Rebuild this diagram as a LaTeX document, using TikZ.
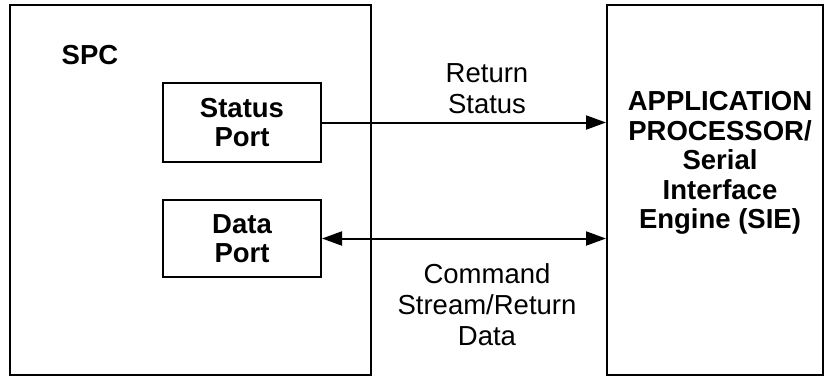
\documentclass[tikz,border=0pt]{standalone}
\usepackage{fontspec}
\setmainfont{Liberation Sans}
\usetikzlibrary{arrows.meta}
\tikzset{
  blk/.style={draw,line width=1pt,inner sep=0pt},
  txt/.style={align=center,inner sep=0pt,font=\fontsize{13.75}{15.5}\selectfont},
  btxt/.style={txt,font=\fontsize{13.75}{14.8}\selectfont\bfseries},
  tip/.tip={Triangle[length=10pt,width=7pt]},
  link/.style={line width=1pt,-tip},
}
\begin{document}
\begin{tikzpicture}[x=0.5pt,y=-0.5pt]
  \useasboundingbox (0,0) rectangle (825,377);
  \draw
    (190.5,190) node[blk,minimum width=180.5pt,minimum height=185pt] (spc){}
    (242,122.5) node[blk,minimum width=79pt,minimum height=39.5pt,btxt] (st){Status\\Port}
    (242,238.5) node[blk,minimum width=79pt,minimum height=38.5pt,btxt] (dp){Data\\Port}
    (715,190) node[blk,minimum width=108pt,minimum height=185pt] (ap){};
  \node[btxt] (spclbl) at (90,55) {SPC};
  \node[btxt] (aplbl) at (720,163) {APPLICATION\\PROCESSOR/\\Serial\\Interface\\Engine (SIE)};
  \node[txt] (rs) at (487,89) {Return\\Status};
  \node[txt] (cs) at (487,305) {Command\\Stream/Return\\Data};
  \begin{scope}[link]
    \draw (st.east) -- (st.east -| ap.west);
    \draw[tip-tip] (dp.east) -- (dp.east -| ap.west);
  \end{scope}
\end{tikzpicture}
\end{document}
